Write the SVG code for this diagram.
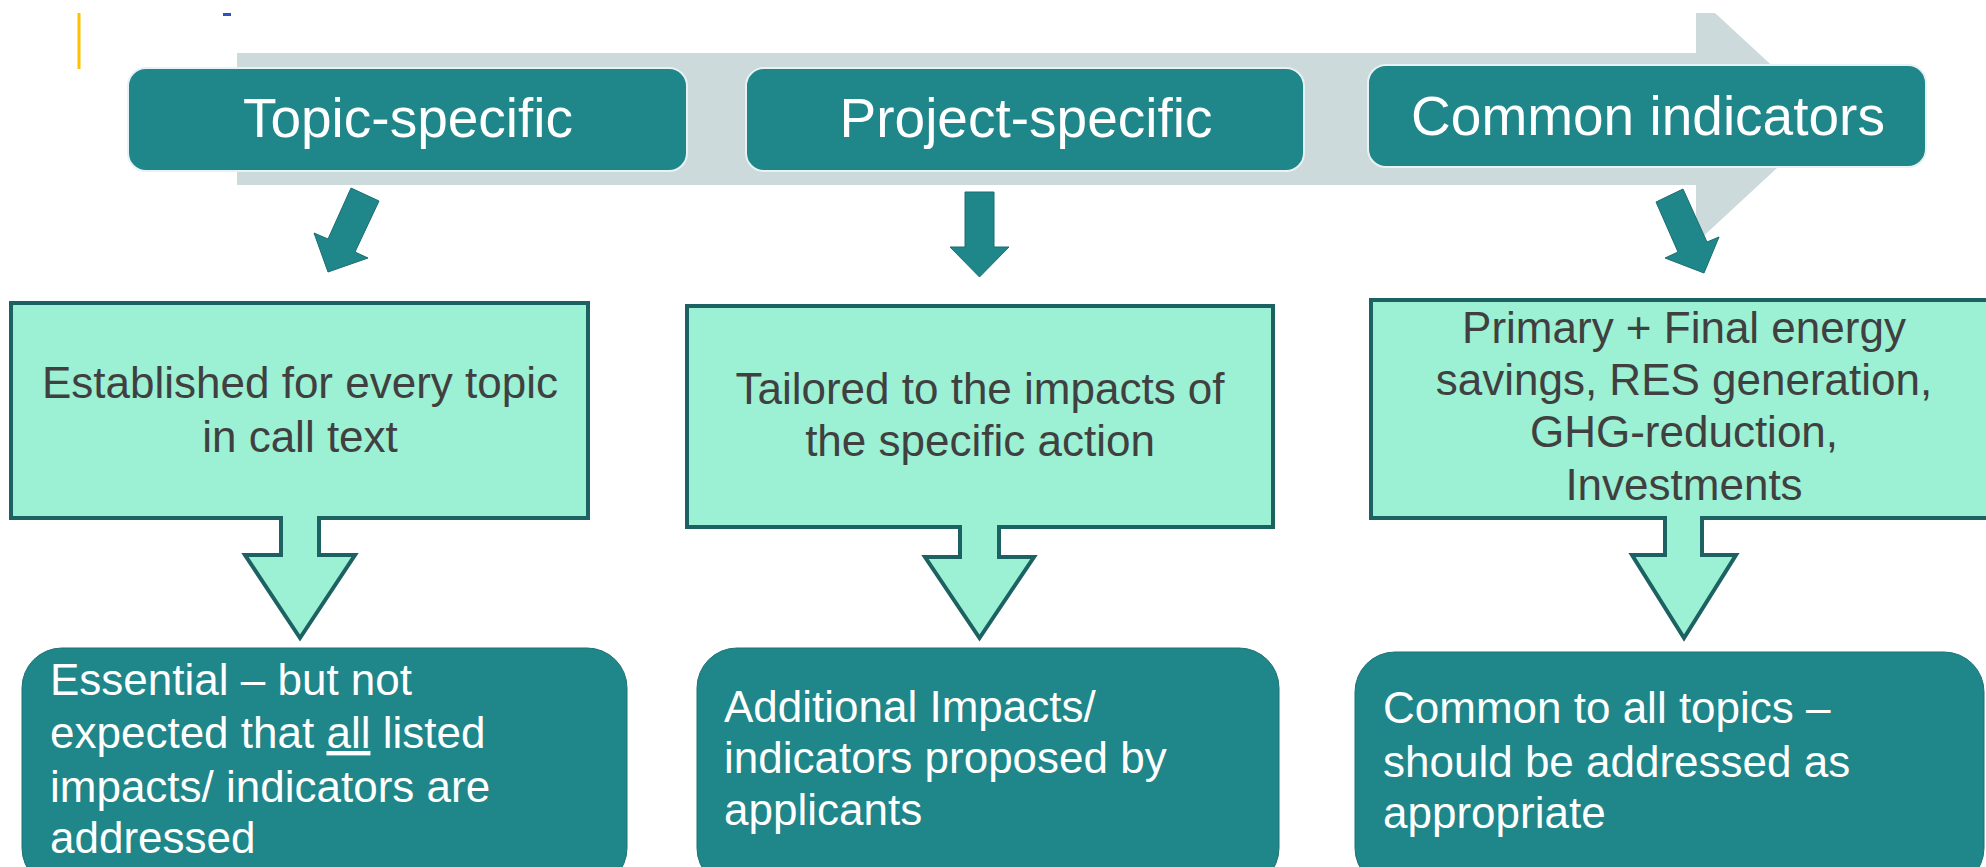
<svg xmlns="http://www.w3.org/2000/svg" width="1986" height="867" viewBox="0 0 1986 867">
  <style>
    text { font-family: "Liberation Sans", Arial, sans-serif; }
    .hdr { fill: #1F868A; stroke: #E8F2F2; stroke-width: 2; }
    .hdrtxt { fill: #FFFFFF; font-size: 55px; text-anchor: middle; }
    .mint { fill: #9CF0D3; stroke: #1C6262; stroke-width: 4; stroke-linejoin: miter; }
    .minttxt { fill: #404040; font-size: 44px; text-anchor: middle; }
    .res { fill: #1F868A; stroke: #1B7376; stroke-width: 1; }
    .restxt { fill: #FFFFFF; font-size: 44px; }
    .arr { fill: #1F868A; stroke: #1B6E71; stroke-width: 1; }
  </style>
  <rect width="1986" height="867" fill="#FFFFFF"/>
  <line x1="79" y1="13" x2="79" y2="69" stroke="#FFC000" stroke-width="3"/>
  <rect x="223" y="13" width="8" height="3" fill="#3050C0"/>
  <polygon id="flow" points="237,53 1696,53 1696,13 1715,13 1830,119 1696,243 1696,185 237,185" fill="#CCDADB"/>

  <g id="connectors">
    <polygon class="arr" points="351,188 379,201 355,252 368,258 328,272 314,233 328,239"/>
    <polygon class="arr" points="965,192 994,192 994,247 1009,247 979.5,277 950,247 965,247"/>
    <polygon class="arr" points="1656,202 1683,189 1707,242 1719,237 1704,273 1665,258 1678,252"/>
  </g>

  <g id="topic-header">
    <rect class="hdr" x="128" y="68" width="559" height="103" rx="18"/>
    <text class="hdrtxt" x="408" y="137">Topic-specific</text>
  </g>
  <g id="project-header">
    <rect class="hdr" x="746" y="68" width="558" height="103" rx="18"/>
    <text class="hdrtxt" x="1026" y="137">Project-specific</text>
  </g>
  <g id="common-header">
    <rect class="hdr" x="1368" y="65" width="558" height="102" rx="18"/>
    <text class="hdrtxt" x="1648" y="135">Common indicators</text>
  </g>

  <g id="topic-desc">
    <path class="mint" d="M11,303 H588 V518 H319 V555 H355 L300,638 L245,555 H281 V518 H11 Z"/>
    <text class="minttxt" x="300" y="398">Established for every topic</text>
    <text class="minttxt" x="300" y="452">in call text</text>
  </g>
  <g id="project-desc">
    <path class="mint" d="M687,306 H1273 V527 H999 V557 H1034 L979.5,638 L925,557 H960 V527 H687 Z"/>
    <text class="minttxt" x="980" y="404">Tailored to the impacts of</text>
    <text class="minttxt" x="980" y="456">the specific action</text>
  </g>
  <g id="common-desc">
    <path class="mint" d="M1371,300 H1998 V518 H1702 V555 H1736 L1684,638 L1632,555 H1665 V518 H1371 Z"/>
    <text class="minttxt" x="1684" y="343">Primary + Final energy</text>
    <text class="minttxt" x="1684" y="395">savings, RES generation,</text>
    <text class="minttxt" x="1684" y="447">GHG-reduction,</text>
    <text class="minttxt" x="1684" y="500">Investments</text>
  </g>

  <g id="topic-result">
    <rect class="res" x="22" y="648" width="605" height="240" rx="40"/>
    <text class="restxt" x="50" y="695">Essential – but not</text>
    <text class="restxt" x="50" y="748">expected that <tspan text-decoration="underline">all</tspan> listed</text>
    <text class="restxt" x="50" y="802">impacts/ indicators are</text>
    <text class="restxt" x="50" y="853">addressed</text>
  </g>
  <g id="project-result">
    <rect class="res" x="697" y="648" width="582" height="240" rx="40"/>
    <text class="restxt" x="724" y="722">Additional Impacts/</text>
    <text class="restxt" x="724" y="773">indicators proposed by</text>
    <text class="restxt" x="724" y="825">applicants</text>
  </g>
  <g id="common-result">
    <rect class="res" x="1355" y="652" width="629" height="236" rx="40"/>
    <text class="restxt" x="1383" y="723">Common to all topics –</text>
    <text class="restxt" x="1383" y="777">should be addressed as</text>
    <text class="restxt" x="1383" y="828">appropriate</text>
  </g>
</svg>
